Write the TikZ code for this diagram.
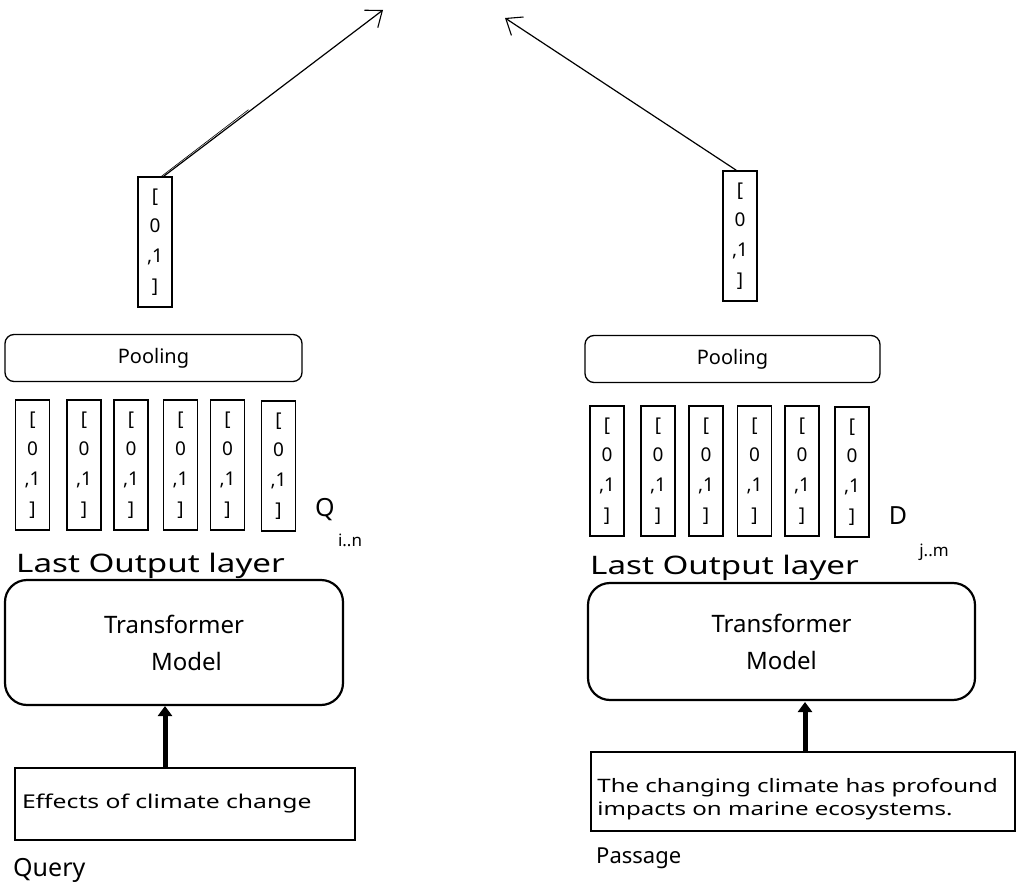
\documentclass[tikz,border=0pt]{standalone}
\usepackage{fontspec}
\setmainfont{Noto Sans}
\newfontfamily\widefont[FakeStretch=1.3]{Noto Sans}
\usetikzlibrary{arrows.meta,calc}
\tikzset{
  vec/.style={draw, line width=1.6pt, minimum width=34pt, minimum height=130pt, inner sep=0pt, align=center, font=\fontsize{19}{30}\selectfont},
  pool/.style={draw, line width=1.3pt, rounded corners=9pt, minimum height=47pt, font=\fontsize{20}{24}\selectfont},
  model/.style={draw, line width=2.2pt, rounded corners=22pt, align=center, font=\fontsize{24}{37}\selectfont},
  inbox/.style={draw, line width=1.6pt, align=left, font=\widefont\fontsize{19}{23}\selectfont},
  intext/.style={align=left, inner sep=0pt, font=\widefont\fontsize{18.5}{23}\selectfont},
  lbl/.style={font=\fontsize{25}{30}\selectfont, inner sep=0pt},
  widelbl/.style={font=\widefont\fontsize{25.5}{30}\selectfont, inner sep=0pt},
  sub/.style={font=\fontsize{17}{20}\selectfont, inner sep=0pt},
  arr/.style={line width=1.2pt, -{Straight Barb[length=14pt,width=22pt,line width=1.1pt]}},
  up/.style={line width=5pt, -{Triangle[length=10pt,width=14pt]}}
}
\newcommand{\vtxt}{[\\0\\,1\\]}
\begin{document}
\begin{tikzpicture}[x=1pt,y=-1pt]
\useasboundingbox (0,0) rectangle (1017,893);
% ---------- left (query) ----------
\node[vec] (qv) at (155,242) {\vtxt};
\coordinate (qtip) at (383,10);
\draw[arr] ([xshift=-9pt]qv.north east) -- (qtip);
\draw[line width=0.6pt] ([xshift=-12.5pt,yshift=-1pt]qv.north east) -- ($([xshift=-9pt]qv.north east)!0.4!(qtip)+(-3pt,0pt)$);
\node[pool, minimum width=297pt] (qpool) at (153.5,358) {Pooling};
\node[vec] (q1) at (32.5,465) {\vtxt};
\node[vec] (q2) at (84,465) {\vtxt};
\node[vec] (q3) at (131,465) {\vtxt};
\node[vec] (q4) at (180.5,465) {\vtxt};
\node[vec] (q5) at (227.5,465) {\vtxt};
\node[vec] (q6) at (278.5,466) {\vtxt};
\node[lbl] (qQ) at (325,510) {Q};
\node[sub] (qsub) at (350,540) {i..n};
\node[widelbl, anchor=west] (qlast) at (16,566) {Last Output layer};
\node[model, minimum width=338pt, minimum height=125pt] (qmodel) at (174,642.5) {Transformer\\\hspace*{25pt}Model};
\node[inbox, minimum width=340pt, minimum height=72pt, text width=326pt] (qin) at (185,804) {Effects of climate change};
\draw[up] (qin.north -| 165,0) -- (165,706);
\node[lbl, anchor=west] (qlab) at (13,870) {Query};
% ---------- right (passage) ----------
\node[vec] (pv) at (740,236) {\vtxt};
\coordinate (ptip) at (505,18);
\draw[arr] ([xshift=14pt]pv.north west) -- (ptip);
\node[pool, minimum width=295pt] (ppool) at (732.5,359) {Pooling};
\node[vec] (p1) at (607,471) {\vtxt};
\node[vec] (p2) at (658,471) {\vtxt};
\node[vec] (p3) at (706,471) {\vtxt};
\node[vec] (p4) at (754.5,471) {\vtxt};
\node[vec] (p5) at (802,471) {\vtxt};
\node[vec] (p6) at (852,472) {\vtxt};
\node[lbl] (pD) at (898,516) {D};
\node[sub] (pjm) at (934,552) {j..m};
\node[widelbl, anchor=west] (plast) at (590,568) {Last Output layer};
\node[model, minimum width=387pt, minimum height=117pt] (pmodel) at (781.5,641.5) {Transformer\\Model};
\node[inbox, minimum width=424pt, minimum height=79pt] (pin) at (803,791.5) {};
\node[intext, anchor=west] (ptext) at ($(pin.west)+(7,8)$) {The changing climate has profound\\impacts on marine ecosystems.};
\draw[up] (pin.north -| 805,0) -- (805,702);
\node[lbl, anchor=west, font=\fontsize{22}{26}\selectfont] (plab) at (596,858) {Passage};
\end{tikzpicture}
\end{document}
